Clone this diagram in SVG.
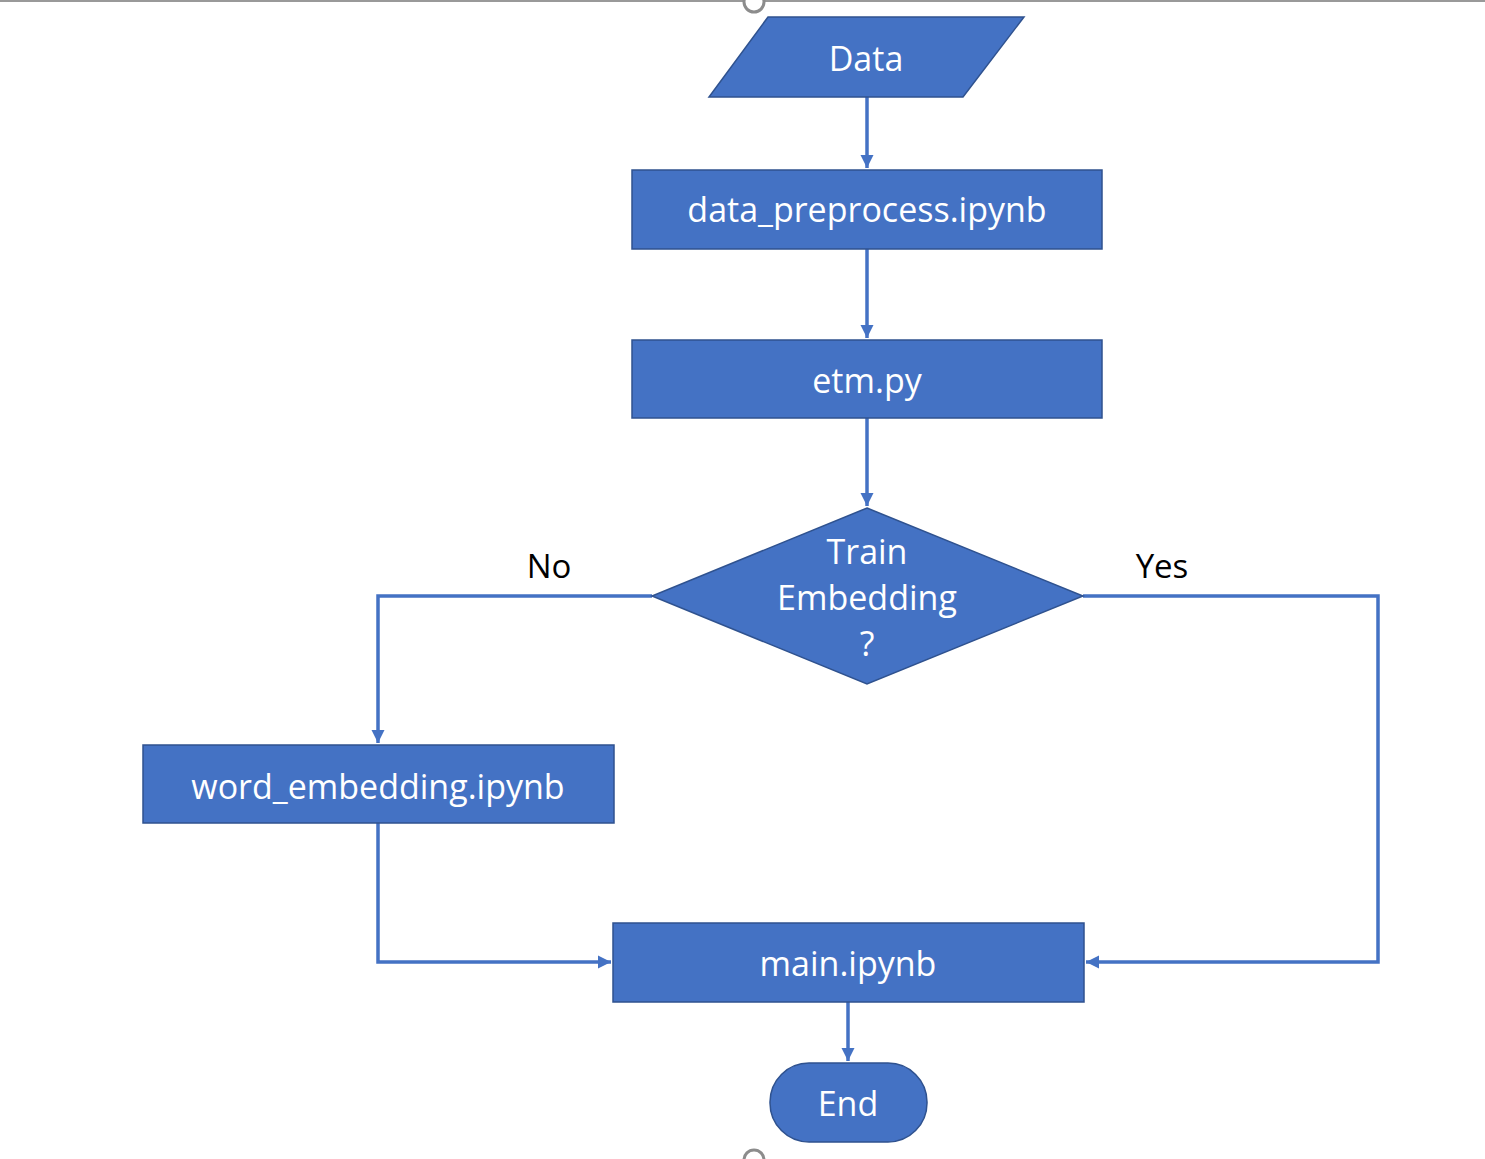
<svg xmlns="http://www.w3.org/2000/svg" width="1485" height="1159" viewBox="0 0 1485 1159">
<style>
.node{fill:#4472C4;stroke:#2F528F;stroke-width:1.5}
.t{font-family:"Open Sans","Liberation Sans",sans-serif;font-size:34px;fill:#ffffff;text-anchor:middle}
.lbl{font-family:"Open Sans","Liberation Sans",sans-serif;font-size:33px;fill:#000000;text-anchor:middle}
.c{fill:none;stroke:#4472C4;stroke-width:3.5}
.h{fill:#ffffff;stroke:#8c8c8c;stroke-width:3}
</style>
<defs>
<marker id="ah" viewBox="0 0 10 10" refX="10" refY="5" markerWidth="3.8" markerHeight="4" orient="auto" markerUnits="strokeWidth">
<path d="M0,0 L10,5 L0,10 z" fill="#4472C4"/>
</marker>
</defs>
<rect width="1485" height="1159" fill="#ffffff"/>
<line x1="0" y1="1" x2="1485" y2="1" stroke="#999999" stroke-width="2"/>
<circle class="h" cx="754" cy="2" r="10"/>
<circle class="h" cx="754" cy="1160" r="10"/>
<g id="connectors">
<path class="c" d="M867,97 V168" marker-end="url(#ah)"/>
<path class="c" d="M867,249 V338" marker-end="url(#ah)"/>
<path class="c" d="M867,418 V506" marker-end="url(#ah)"/>
<path class="c" d="M652,596 H378 V743" marker-end="url(#ah)"/>
<path class="c" d="M378,823 V962 H611" marker-end="url(#ah)"/>
<path class="c" d="M1083,596 H1378 V962 H1086" marker-end="url(#ah)"/>
<path class="c" d="M848,1002 V1061" marker-end="url(#ah)"/>
<text class="lbl" x="549" y="578">No</text>
<text class="lbl" x="1162" y="578">Yes</text>
</g>
<g id="data">
<polygon class="node" points="768,17 1024,17 963,97 709,97"/>
<text class="t" x="866" y="71">Data</text>
</g>
<g id="data_preprocess">
<rect class="node" x="632" y="170" width="470" height="79"/>
<text class="t" x="867" y="222">data_preprocess.ipynb</text>
</g>
<g id="etm">
<rect class="node" x="632" y="340" width="470" height="78"/>
<text class="t" x="867" y="393">etm.py</text>
</g>
<g id="decision">
<polygon class="node" points="867,508 1083,596 867,684 652,596"/>
<text class="t" x="867" y="564">Train</text>
<text class="t" x="867" y="610">Embedding</text>
<text class="t" x="867" y="656">?</text>
</g>
<g id="word_embedding">
<rect class="node" x="143" y="745" width="471" height="78"/>
<text class="t" x="378" y="799">word_embedding.ipynb</text>
</g>
<g id="main">
<rect class="node" x="613" y="923" width="471" height="79"/>
<text class="t" x="848" y="976">main.ipynb</text>
</g>
<g id="end">
<rect class="node" x="770" y="1063" width="157" height="79" rx="39" ry="39"/>
<text class="t" x="848" y="1116">End</text>
</g>
</svg>
